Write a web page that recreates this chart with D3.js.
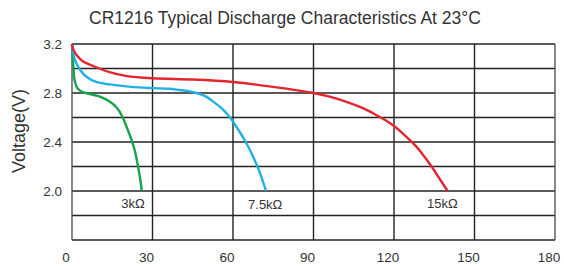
<!DOCTYPE html>
<html>
<head>
<meta charset="utf-8">
<script src="https://cdn.jsdelivr.net/npm/d3@7"></script>
<style>
  body { margin: 0; background: #fff; }
  text { font-family: "Liberation Sans", Arial, sans-serif; fill: #333; }
</style>
</head>
<body>
<div id="chart"></div>
<script>
const width = 564;
const height = 270;
const margin = {top: 44, right: 9, bottom: 30, left: 72};

// x ticks (hours) and y ticks (volts)
const xTicks = [0, 30, 60, 90, 120, 150, 180];
const yGrid = [1.6, 1.8, 2.0, 2.2, 2.4, 2.6, 2.8, 3.0, 3.2];
const yLabels = [2.0, 2.4, 2.8, 3.2];

// curves: [hours, volts]
const curve3k = [[0, 3.2], [0.5, 3.02], [1, 2.9], [2, 2.84], [3.7, 2.81], [7, 2.79], [10.4, 2.77],
  [14, 2.73], [16.7, 2.68], [18.7, 2.61], [20.4, 2.52], [22, 2.43], [23.4, 2.33], [24.6, 2.2], [25.4, 2.1], [26, 2.0]];
const curve75k = [[0, 3.2], [1.1, 3.07], [3, 2.99], [5.5, 2.93], [9, 2.89], [14, 2.87], [22, 2.85],
  [30, 2.84], [36, 2.835], [40, 2.825], [43.5, 2.815], [46.5, 2.8], [50, 2.77], [52.6, 2.73], [56, 2.67],
  [58.9, 2.6], [62, 2.5], [65, 2.39], [67.5, 2.28], [70, 2.15], [72.3, 2.0]];
const curve15k = [[0, 3.2], [0.6, 3.15], [1.7, 3.11], [4, 3.06], [8, 3.02], [14, 2.97], [20, 2.94],
  [30, 2.92], [45, 2.91], [60, 2.89], [75, 2.85], [90, 2.8], [96, 2.77], [102, 2.73], [108, 2.68],
  [113, 2.625], [117, 2.575], [120, 2.53], [124, 2.455], [128, 2.37], [131, 2.29], [134, 2.2], [137, 2.1], [140, 2.0]];

const series = [
  {name: "3kΩ", data: curve3k, color: "#17a24b", lx: 22.7, ly: 1.9},
  {name: "7.5kΩ", data: curve75k, color: "#1fb0e4", lx: 72, ly: 1.89},
  {name: "15kΩ", data: curve15k, color: "#e2262f", lx: 138, ly: 1.9}
];

const x = d3.scaleLinear().domain([0, 180]).range([margin.left, width - margin.right]);
const y = d3.scaleLinear().domain([1.6, 3.2]).range([height - margin.bottom, margin.top]);

const svg = d3.select("#chart").append("svg")
  .attr("width", width)
  .attr("height", height);

// title
svg.append("text")
  .attr("x", 285)
  .attr("y", 24)
  .attr("text-anchor", "middle")
  .style("font-size", "17.5px")
  .text("CR1216 Typical Discharge Characteristics At 23°C");

// grid
svg.append("g")
  .selectAll("line")
  .data(yGrid)
  .join("line")
  .attr("x1", x(0)).attr("x2", x(180))
  .attr("y1", d => y(d)).attr("y2", d => y(d))
  .attr("stroke", "#222")
  .attr("stroke-width", 1.4);

svg.append("g")
  .selectAll("line")
  .data(xTicks)
  .join("line")
  .attr("x1", d => x(d)).attr("x2", d => x(d))
  .attr("y1", y(3.2)).attr("y2", y(1.6))
  .attr("stroke", d => (d === 0 || d === 180) ? "#555" : "#222")
  .attr("stroke-width", 1.4);

// tick labels
svg.append("g")
  .selectAll("text")
  .data(yLabels)
  .join("text")
  .attr("x", margin.left - 10)
  .attr("y", d => y(d))
  .attr("dy", "0.35em")
  .attr("text-anchor", "end")
  .style("font-size", "13.5px")
  .text(d => d.toFixed(1));

svg.append("g")
  .selectAll("text")
  .data(xTicks)
  .join("text")
  .attr("x", d => x(d) - 6)
  .attr("y", 257)
  .attr("dy", "0.35em")
  .attr("text-anchor", "middle")
  .style("font-size", "13.5px")
  .text(d => d);

// axis titles
svg.append("text")
  .attr("transform", `translate(25,131) rotate(-90)`)
  .attr("text-anchor", "middle")
  .style("font-size", "18px")
  .text("Voltage(V)");

// x title sits mostly below the frame, as in the reference
svg.append("text")
  .attr("x", 292)
  .attr("y", 283)
  .attr("text-anchor", "middle")
  .style("font-size", "16px")
  .text("Discharge time(h)");

// curves
const line = d3.line()
  .x(d => x(d[0]))
  .y(d => y(d[1]))
  .curve(d3.curveCatmullRom.alpha(0.5));

svg.append("g")
  .selectAll("path")
  .data(series)
  .join("path")
  .attr("d", d => line(d.data))
  .attr("fill", "none")
  .attr("stroke", d => d.color)
  .attr("stroke-width", 2.4);

// curve labels
svg.append("g")
  .selectAll("text")
  .data(series)
  .join("text")
  .attr("x", d => x(d.lx))
  .attr("y", d => y(d.ly))
  .attr("dy", "0.35em")
  .attr("text-anchor", "middle")
  .style("font-size", "13px")
  .text(d => d.name);
</script>
</body>
</html>
